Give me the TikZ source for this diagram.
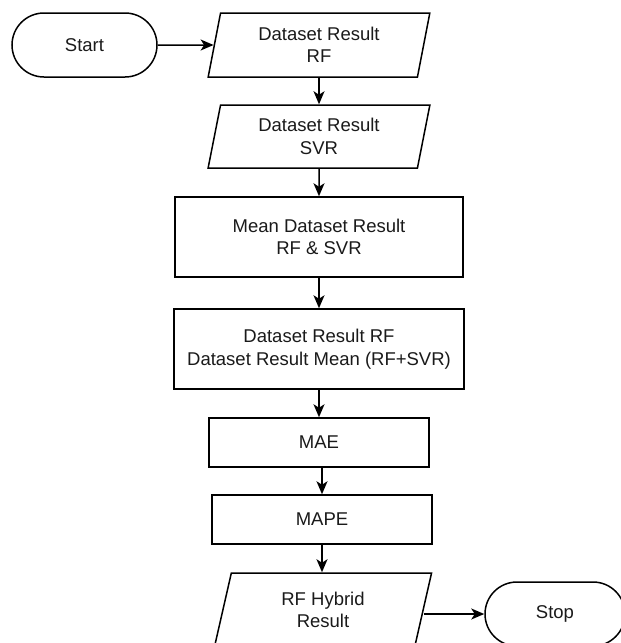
\documentclass[tikz,border=0pt]{standalone}
\usepackage{fontspec}
\setmainfont{Liberation Sans}
\usetikzlibrary{shapes.geometric,arrows.meta}
\definecolor{ink}{HTML}{1A1A1A}
\tikzset{
  base/.style={draw=black, line width=1.5pt, text=ink, align=center,
    font=\fontsize{18.5}{22.5}\selectfont, inner sep=0pt},
  terminal/.style={base, rectangle, rounded corners=32pt, minimum height=64pt},
  process/.style={base, rectangle},
  io/.style={base, trapezium, trapezium left angle=78, trapezium right angle=102,
    trapezium stretches=true, minimum height=64pt},
  flow/.style={line width=1.5pt, -{Stealth[length=13pt,width=11pt,inset=3.5pt]}}
}
\begin{document}
\begin{tikzpicture}[x=1pt,y=-1pt]
\clip (0,0) rectangle (621,643);
\fill[white] (0,0) rectangle (621,643);

\node[terminal, minimum width=145pt] (start) at (84.5,45) {Start};
\node[io, minimum width=222pt] (rf) at (319,45) {Dataset Result\\RF};
\node[io, minimum width=222pt, minimum height=63pt] (svr) at (319,136.5) {Dataset Result\\SVR};
\node[process, minimum width=288pt, minimum height=80pt] (mean) at (319,237) {Mean Dataset Result\\RF \& SVR};
\node[process, minimum width=290pt, minimum height=80pt] (cmp) at (319,349) {Dataset Result RF\\Dataset Result Mean (RF+SVR)};
\node[process, minimum width=220pt, minimum height=49pt] (mae) at (319,442.5) {MAE};
\node[process, minimum width=220pt, minimum height=49pt] (mape) at (322,519.5) {MAPE};
\node[io, minimum width=218pt, minimum height=74pt] (hyb) at (323,610) {RF Hybrid\\Result};
\node[terminal, minimum width=140pt] (stop) at (555,614) {Stop};

\draw[flow] (start.east) -- (rf.west);
\draw[flow] (rf.south) -- (svr.north);
\draw[flow] (svr.south) -- (mean.north);
\draw[flow] (mean.south) -- (cmp.north);
\draw[flow] (cmp.south) -- (mae.north);
\draw[flow] (mae.south -| mape.north) -- (mape.north);
\draw[flow] (mape.south) -- (mape.south |- hyb.north);
\draw[flow] (stop.west -| hyb.east) -- (stop.west);
\end{tikzpicture}
\end{document}
